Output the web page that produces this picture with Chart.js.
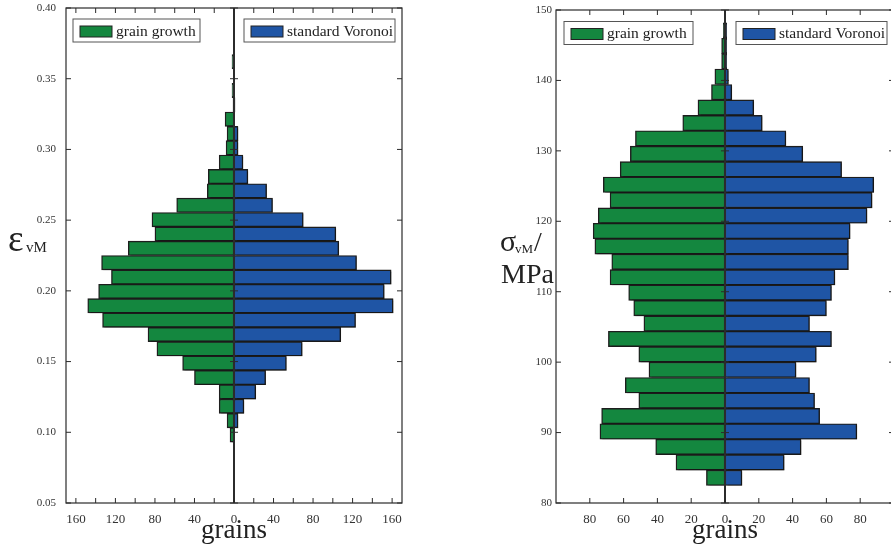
<!DOCTYPE html>
<html>
<head>
<meta charset="utf-8">
<script src="https://cdn.jsdelivr.net/npm/chart.js@4"></script>
<style>
  html, body { margin: 0; padding: 0; background: #fff; overflow: hidden; }
  #wrap { position: relative; width: 891px; height: 553px; overflow: hidden; }
  #strainBox { position: absolute; left: 0; top: 0; }
  #stressBox { position: absolute; left: 445px; top: 0; }
</style>
</head>
<body>
<div id="wrap">
  <div id="strainBox"><canvas id="strainChart" width="445" height="553"></canvas></div>
  <div id="stressBox"><canvas id="stressChart" width="452" height="553"></canvas></div>
</div>
<script>
// left panel: von Mises strain histogram (bin centres, counts)
const strainBins = [0.0981, 0.10825, 0.1184, 0.12855, 0.1387, 0.14885, 0.159, 0.16915, 0.1793,
  0.18945, 0.1996, 0.20975, 0.2199, 0.23005, 0.2402, 0.25035, 0.2605, 0.27065, 0.2808,
  0.29095, 0.3011, 0.31125, 0.3214, 0.33155, 0.3417, 0.35185, 0.362];
const strainGrowth = [4, 7, 15, 15, 40, 52, 78, 87, 133, 148, 137, 124, 134, 107, 80, 83, 58,
  27, 26, 15, 8, 7, 9, 1, 2, 0, 2];
const strainVoronoi = [0, 4, 10, 22, 32, 53, 69, 108, 123, 161, 152, 159, 124, 106, 103, 70, 39,
  33, 14, 9, 4, 4, 0, 1, 0, 0, 0];
const strainTicksX = [-160, -140, -120, -100, -80, -60, -40, -20, 0, 20, 40, 60, 80, 100, 120, 140, 160];
const strainTicksY = [0.05, 0.10, 0.15, 0.20, 0.25, 0.30, 0.35, 0.40];

// right panel: von Mises stress histogram (MPa)
const stressBins = [83.58, 85.77, 87.96, 90.15, 92.34, 94.53, 96.72, 98.91, 101.10, 103.29,
  105.48, 107.67, 109.86, 112.05, 114.24, 116.43, 118.62, 120.81, 123.00, 125.19, 127.38,
  129.57, 131.76, 133.95, 136.14, 138.33, 140.52, 142.71, 144.90, 147.09];
const stressGrowth = [11, 29, 41, 74, 73, 51, 59, 45, 51, 69, 48, 54, 57, 68, 67, 77, 78, 75, 68,
  72, 62, 56, 53, 25, 16, 8, 6, 2, 2, 1];
const stressVoronoi = [10, 35, 45, 78, 56, 53, 50, 42, 54, 63, 50, 60, 63, 65, 73, 73, 74, 84, 87,
  88, 69, 46, 36, 22, 17, 4, 2, 1, 1, 1];
const stressTicksX = [-80, -60, -40, -20, 0, 20, 40, 60, 80];
const stressTicksY = [80, 90, 100, 110, 120, 130, 140, 150];

const seriesNames = ["grain growth", "standard Voronoi"];

const serif = "'Liberation Serif', 'Times New Roman', serif";
const green = "#14873f";
const blue = "#1f55a5";

// frame, inward ticks, zero line, legend boxes and the y label
const framePlugin = {
  id: "frame",
  beforeDatasetsDraw(chart) {
    // light grey drop shadow under the bars
    const ctx = chart.ctx;
    ctx.save();
    ctx.shadowColor = "rgba(0,0,0,0.25)";
    ctx.shadowOffsetX = 2;
    ctx.shadowOffsetY = 1;
    ctx.shadowBlur = 0;
  },
  afterDatasetsDraw(chart, args, opts) {
    const { ctx, chartArea: a, scales: { x, y } } = chart;
    ctx.restore();
    ctx.save();
    ctx.strokeStyle = "#2b2b2b";
    ctx.lineWidth = 1.2;
    ctx.strokeRect(a.left, a.top, a.right - a.left, a.bottom - a.top);

    const x0 = x.getPixelForValue(0);
    ctx.lineWidth = 2;
    ctx.beginPath();
    ctx.moveTo(x0, a.top);
    ctx.lineTo(x0, a.bottom);
    ctx.stroke();

    ctx.lineWidth = 1;
    ctx.beginPath();
    x.ticks.forEach((t) => {
      const px = x.getPixelForValue(t.value);
      ctx.moveTo(px, a.bottom); ctx.lineTo(px, a.bottom - 5);
      ctx.moveTo(px, a.top); ctx.lineTo(px, a.top + 5);
    });
    y.ticks.forEach((t) => {
      const py = y.getPixelForValue(t.value);
      ctx.moveTo(a.left, py); ctx.lineTo(a.left + 5, py);
      ctx.moveTo(a.right, py); ctx.lineTo(a.right - 5, py);
      ctx.moveTo(x0 - 4, py); ctx.lineTo(x0 + 4, py);
    });
    ctx.stroke();

    // legend, one box per series
    chart.data.datasets.forEach((ds, i) => {
      const b = opts.legend[i];
      ctx.fillStyle = "#fff";
      ctx.fillRect(b.x, b.y, b.w, 23);
      ctx.strokeStyle = "#555";
      ctx.lineWidth = 1;
      ctx.strokeRect(b.x, b.y, b.w, 23);
      ctx.fillStyle = ds.backgroundColor;
      ctx.fillRect(b.x + 7, b.y + 7, 32, 11);
      ctx.strokeStyle = "#222";
      ctx.strokeRect(b.x + 7, b.y + 7, 32, 11);
      ctx.fillStyle = "#222";
      ctx.font = "15.5px " + serif;
      ctx.textBaseline = "alphabetic";
      ctx.fillText(ds.label, b.x + 43, b.y + 16.5);
    });

    // y axis label pieces (symbol + subscript)
    opts.label.forEach((p) => {
      ctx.font = p.size + "px " + serif;
      ctx.fillStyle = "#222";
      ctx.fillText(p.text, p.x, p.y);
    });
    ctx.restore();
  },
};

const histChart = (id, bins, growth, voronoi, ticksX, ticksY, cfg) => {
  let ctx = document.getElementById(id).getContext("2d");

  let myChart = new Chart(ctx, {
    type: "bar",
    data: {
      datasets: [
        {
          label: seriesNames[0],
          data: bins.map((b, i) => ({ x: -growth[i], y: b })),
          backgroundColor: green,
          borderColor: "#1e1e1e",
          borderWidth: 1.4,
          borderSkipped: false,
          grouped: false,
          barPercentage: 1,
          categoryPercentage: 1,
        },
        {
          label: seriesNames[1],
          data: bins.map((b, i) => ({ x: voronoi[i], y: b })),
          backgroundColor: blue,
          borderColor: "#1e1e1e",
          borderWidth: 1.4,
          borderSkipped: false,
          grouped: false,
          barPercentage: 1,
          categoryPercentage: 1,
        },
      ],
    },
    options: {
      indexAxis: "y",
      responsive: false,
      animation: false,
      devicePixelRatio: 1,
      layout: { padding: cfg.padding },
      plugins: {
        legend: { display: false },
        tooltip: { enabled: false },
        frame: { legend: cfg.legend, label: cfg.label },
      },
      scales: {
        x: {
          type: "linear",
          min: cfg.xMin,
          max: cfg.xMax,
          afterBuildTicks: (s) => { s.ticks = ticksX.map((v) => ({ value: v })); },
          afterFit: (s) => { s.height = 50; },
          grid: { display: false, drawTicks: false },
          border: { display: false },
          ticks: {
            callback: (v) => (v % cfg.xLabelStep === 0 ? Math.abs(v) : ""),
            font: { family: serif, size: 13 },
            color: "#333",
            padding: 9,
            maxRotation: 0,
            autoSkip: false,
          },
          title: {
            display: true,
            text: "grains",
            font: { family: serif, size: 27 },
            color: "#222",
            padding: { top: 0, bottom: 6 },
          },
        },
        y: {
          type: "linear",
          offset: false,
          min: cfg.yMin,
          max: cfg.yMax,
          afterBuildTicks: (s) => { s.ticks = ticksY.map((v) => ({ value: v })); },
          afterFit: (s) => {
            s.width = cfg.yWidth;
            s.paddingTop = 0;
            s.paddingBottom = 0;
          },
          grid: { display: false, drawTicks: false, offset: false },
          border: { display: false },
          ticks: {
            callback: cfg.yFormat,
            font: { family: serif, size: 11 },
            color: "#333",
            padding: cfg.yPad,
            autoSkip: false,
          },
        },
      },
    },
    plugins: [framePlugin],
  });
  return myChart;
};

histChart("strainChart", strainBins, strainGrowth, strainVoronoi, strainTicksX, strainTicksY, {
  xMin: -170, xMax: 170, yMin: 0.05, yMax: 0.40, xLabelStep: 40,
  yWidth: 66, yPad: 10,
  padding: { left: 0, right: 43, top: 8, bottom: 0 },
  yFormat: (v) => v.toFixed(2),
  legend: [{ x: 73, y: 19, w: 127 }, { x: 244, y: 19, w: 151 }],
  label: [{ text: "ε", x: 8, y: 251, size: 37 }, { text: "vM", x: 26, y: 252, size: 15 }],
});

histChart("stressChart", stressBins, stressGrowth, stressVoronoi, stressTicksX, stressTicksY, {
  xMin: -100, xMax: 100, yMin: 80, yMax: 150, xLabelStep: 20,
  yWidth: 111, yPad: 4,
  padding: { left: 0, right: 3, top: 10, bottom: 0 },
  yFormat: (v) => v,
  legend: [{ x: 119, y: 21.5, w: 129 }, { x: 291, y: 21.5, w: 151 }],
  label: [
    { text: "σ", x: 55, y: 251, size: 30 },
    { text: "vM", x: 70, y: 253, size: 13 },
    { text: "/", x: 89, y: 251, size: 28 },
    { text: "MPa", x: 56, y: 283, size: 28 },
  ],
});
</script>
</body>
</html>
